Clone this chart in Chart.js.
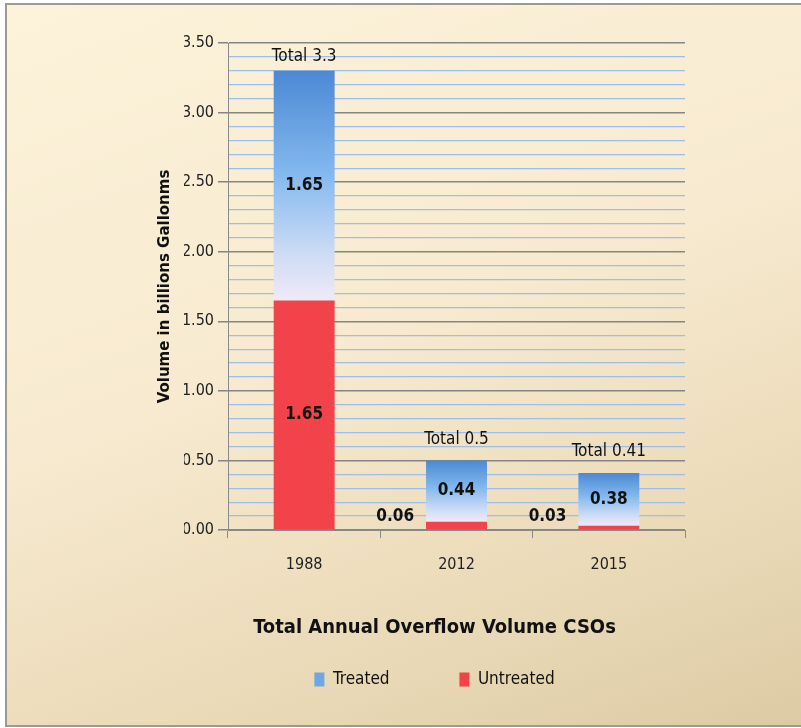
<!DOCTYPE html>
<html>
<head>
<meta charset="utf-8">
<script src="https://cdn.jsdelivr.net/npm/chart.js@4.4.1/dist/chart.umd.min.js"></script>
<style>
  html, body { margin: 0; padding: 0; background: #fff; }
  #frame {
    position: absolute; left: 5px; top: 3px; width: 810px; height: 720px;
    border: 2px solid #9a9a9a;
    background: linear-gradient(160deg, #fcf3da 0%, #f7ead0 45%, #e9d8b5 80%, #dccaa4 100%);
  }
  #wrap { position: absolute; left: 0; top: 0; width: 801px; height: 728px; }
</style>
</head>
<body>
<div id="frame"></div>
<div id="wrap"><canvas id="myChart"></canvas></div>
<script>
// data
var years = ['1988', '2012', '2015'];
var untreated = [1.65, 0.06, 0.03];
var treated = [1.65, 0.44, 0.38];

var FONT = "'Liberation Sans Narrow', 'DejaVu Sans Condensed', sans-serif";
var RED = '#f2434a';

const ctx = document.getElementById('myChart');

function treatedFill(c) {
    var chart = c.chart;
    if (!chart.chartArea || c.dataIndex === undefined) return '#79aee8';
    var y = chart.scales.y;
    var i = c.dataIndex;
    var top = y.getPixelForValue(untreated[i] + treated[i]);
    var base = y.getPixelForValue(untreated[i]);
    var g = chart.ctx.createLinearGradient(0, top, 0, base);
    g.addColorStop(0, '#4b89d4');
    g.addColorStop(0.45, '#84b9ef');
    g.addColorStop(0.8, '#cddcf5');
    g.addColorStop(1, '#efeaf8');
    return g;
}

// value labels + totals
const barLabels = {
    id: 'barLabels',
    afterDatasetsDraw(chart) {
        var c = chart.ctx;
        c.save();
        c.fillStyle = '#111';
        c.textBaseline = 'middle';
        chart.data.datasets.forEach(function (ds, di) {
            var meta = chart.getDatasetMeta(di);
            meta.data.forEach(function (bar, i) {
                var v = ds.data[i];
                var h = Math.abs(bar.base - bar.y);
                c.font = 'bold 17px ' + FONT;
                if (h >= 20) {
                    c.textAlign = 'center';
                    c.fillText(v.toFixed(2), bar.x, (bar.y + bar.base) / 2);
                } else {
                    c.textAlign = 'right';
                    c.fillText(v.toFixed(2), bar.x - bar.width / 2 - 12, bar.base - 13);
                }
            });
        });
        var topMeta = chart.getDatasetMeta(1);
        topMeta.data.forEach(function (bar, i) {
            var total = Number((untreated[i] + treated[i]).toFixed(2));
            c.font = '17px ' + FONT;
            c.textAlign = 'center';
            c.fillText('Total ' + total, bar.x, bar.y - (i === 0 ? 14 : 21));
        });
        c.restore();
    }
};

var myChart = new Chart(ctx, {
    type: 'bar',
    data: {
        labels: years,
        datasets: [{
            label: 'Untreated',
            data: untreated,
            backgroundColor: RED,
            borderWidth: 0,
            barPercentage: 0.4,
            categoryPercentage: 1
        }, {
            label: 'Treated',
            data: treated,
            backgroundColor: treatedFill,
            borderWidth: 0,
            barPercentage: 0.4,
            categoryPercentage: 1
        }]
    },
    options: {
        responsive: true,
        maintainAspectRatio: false,
        animation: false,
        layout: { padding: { left: 184, right: 116, top: 43, bottom: 30 } },
        plugins: {
            tooltip: { enabled: false },
            title: { display: false },
            legend: {
                position: 'bottom',
                reverse: true,
                title: {
                    display: true,
                    text: 'Total Annual Overflow Volume CSOs',
                    color: '#111',
                    font: { family: FONT, size: 20, weight: 'bold' },
                    padding: { top: 28, bottom: 5 }
                },
                labels: {
                    color: '#222',
                    font: { family: FONT, size: 17 },
                    boxWidth: 10,
                    boxHeight: 14,
                    padding: 24,
                    generateLabels: function (chart) {
                        return [{
                            text: 'Treated\u2002\u2002\u2002\u2002\u2002\u2002',
                            fillStyle: '#6ea6e6', strokeStyle: 'rgba(0,0,0,0)', lineWidth: 0, datasetIndex: 1
                        }, {
                            text: 'Untreated',
                            fillStyle: RED, strokeStyle: 'rgba(0,0,0,0)', lineWidth: 0, datasetIndex: 0
                        }].reverse();
                    }
                }
            }
        },
        scales: {
            x: {
                stacked: true,
                afterFit: function (s) { s.height = 60; },
                border: { color: '#8a8a8a', width: 1 },
                grid: { offset: true, drawOnChartArea: false, tickLength: 8, color: '#8a8a8a' },
                ticks: { color: '#222', padding: 17, font: { family: FONT, size: 16 } }
            },
            y: {
                stacked: true,
                min: 0,
                max: 3.5,
                afterFit: function (s) { s.width = 44; },
                border: { color: '#8a8a8a', width: 1 },
                title: {
                    display: true,
                    text: 'Volume in billions Gallonms',
                    color: '#111',
                    font: { family: "'DejaVu Sans', sans-serif", size: 15, weight: 'bold' },
                    padding: { top: -28, bottom: 0 }
                },
                grid: {
                    tickLength: 10,
                    lineWidth: function (c) { return Math.round(c.tick.value * 10) % 5 === 0 ? 1.5 : 1.2; },
                    color: function (c) { return Math.round(c.tick.value * 10) % 5 === 0 ? '#858585' : '#9dbdea'; },
                    tickColor: function (c) { return Math.round(c.tick.value * 10) % 5 === 0 ? '#858585' : 'rgba(0,0,0,0)'; }
                },
                ticks: {
                    stepSize: 0.1,
                    autoSkip: false,
                    padding: 4,
                    color: '#222',
                    font: { family: FONT, size: 16 },
                    callback: function (v) {
                        return Math.round(v * 10) % 5 === 0 ? Number(v).toFixed(2) : '';
                    }
                }
            }
        }
    },
    plugins: [barLabels]
});
</script>
</body>
</html>
